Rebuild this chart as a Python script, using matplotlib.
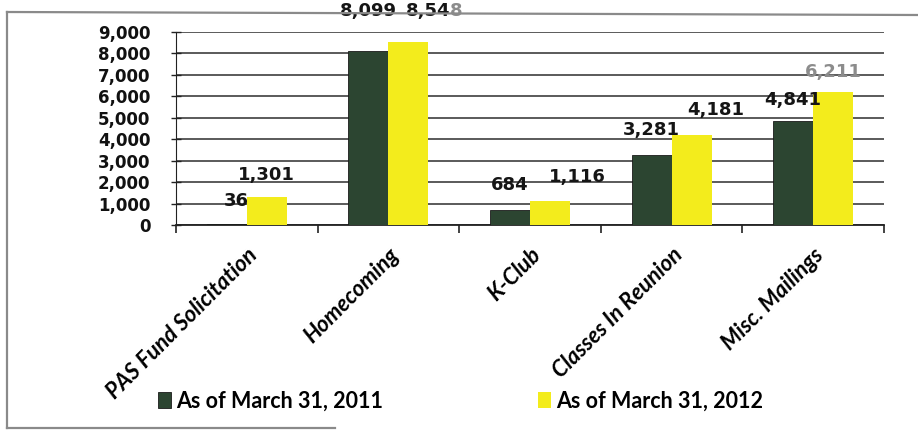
import numpy as np
import matplotlib.pyplot as plt
from matplotlib.lines import Line2D
from matplotlib.ticker import FuncFormatter

categories = ["PAS Fund Solicitation", "Homecoming", "K-Club",
              "Classes In Reunion", "Misc. Mailings"]
counts_2011 = [36, 8099, 684, 3281, 4841]
counts_2012 = [1301, 8548, 1116, 4181, 6211]
series_names = ["As of March 31, 2011", "As of March 31, 2012"]

# label offsets in points (dx, dy) from the top centre of each bar
offs_2011 = [(7, 17), (0, 29), (0, 18), (0, 18), (0, 15)]
offs_2012 = [(0, 16), (19, 22), (20, 17), (17, 18), (0, 14)]

dark = "#2c4531"
yellow = "#f3ec1c"

fig = plt.figure(figsize=(9.18, 4.33), dpi=100)
ax = fig.add_axes([176/918, 1 - 225/433, 708/918, 193/433])

x = np.arange(len(categories))
w = 0.283
b1 = ax.bar(x - w/2, counts_2011, w, color=dark, edgecolor="#1a1a1a",
            linewidth=0.6, zorder=3, label=series_names[0])
b2 = ax.bar(x + w/2, counts_2012, w, color=yellow, zorder=3,
            label=series_names[1])

ax.set_xlim(-0.5, 4.5)
ax.set_ylim(0, 9000)
ax.set_yticks(range(0, 9001, 1000))
ax.yaxis.set_major_formatter(FuncFormatter(lambda v, p: f"{int(v):,}"))
ax.grid(axis="y", color="#3e3e3e", linewidth=1.2, zorder=1)
for s in ["top", "right"]:
    ax.spines[s].set_visible(False)
ax.spines["left"].set_color("#222222")
ax.spines["bottom"].set_color("#222222")
ax.spines["bottom"].set_linewidth(1.3)

ax.tick_params(axis="y", direction="inout", length=7, width=1, pad=15,
               labelsize=12, colors="#222222")
for t in ax.get_yticklabels():
    t.set_fontweight("bold")
    t.set_color("#111111")

# category labels on major ticks, tick marks at the boundaries
ax.set_xticks(x)
ax.set_xticklabels(categories, rotation=45, ha="right",
                   rotation_mode="anchor", fontsize=16, family="Lato",
                   fontweight="bold", style="italic")
ax.tick_params(axis="x", which="major", length=0, pad=14)
ax.set_xticks(np.arange(-0.5, 5, 1), minor=True)
ax.tick_params(axis="x", which="minor", length=6, width=1.2,
               direction="out", colors="#222222")

lab_kw = dict(textcoords="offset points", ha="center", va="center",
              fontsize=13, fontweight="bold", zorder=5)
for i, v in enumerate(counts_2011):
    ax.annotate(f"{v:,}", (x[i] - w/2, v), xytext=offs_2011[i],
                color="#151515", **lab_kw)
for i, v in enumerate(counts_2012):
    txt = f"{v:,}"
    if i == 1:
        # last digit runs off in grey
        dx, dy = offs_2012[i]
        head = ax.annotate(txt[:-1], (x[i] + w/2, v), xytext=(dx - 21, dy),
                           color="#151515", **dict(lab_kw, ha="left"))
        ax.annotate(txt[-1], (1, 0.5), xycoords=head, ha="left",
                    va="center", fontsize=13, fontweight="bold",
                    color="#8c8c8c", zorder=5)
    elif i == 4:
        ax.annotate(txt, (x[i] + w/2, v), xytext=offs_2012[i],
                    color="#8c8c8c", **lab_kw)
    else:
        ax.annotate(txt, (x[i] + w/2, v), xytext=offs_2012[i],
                    color="#151515", **lab_kw)

leg = fig.legend(handles=[b1, b2], loc="center left",
                 bbox_to_anchor=(158/918, 1 - 401/433), ncol=2,
                 frameon=False, borderpad=0, borderaxespad=0,
                 handlelength=0.6, handleheight=0.8, handletextpad=0.25,
                 columnspacing=7.2,
                 prop=dict(family="Lato", weight="bold", size=15.5))

# outer box
fc = "#8a8a8a"
fig.add_artist(Line2D([7/918, 1], [1 - 12/433, 1 - 15/433],
                      transform=fig.transFigure, color=fc, lw=1.6))
fig.add_artist(Line2D([7/918, 7/918], [1 - 12/433, 1 - 428/433],
                      transform=fig.transFigure, color=fc, lw=1.6))
fig.add_artist(Line2D([7/918, 335/918], [1 - 428/433, 1 - 428/433],
                      transform=fig.transFigure, color=fc, lw=1.6))

fig.savefig("out.png", dpi=100)
